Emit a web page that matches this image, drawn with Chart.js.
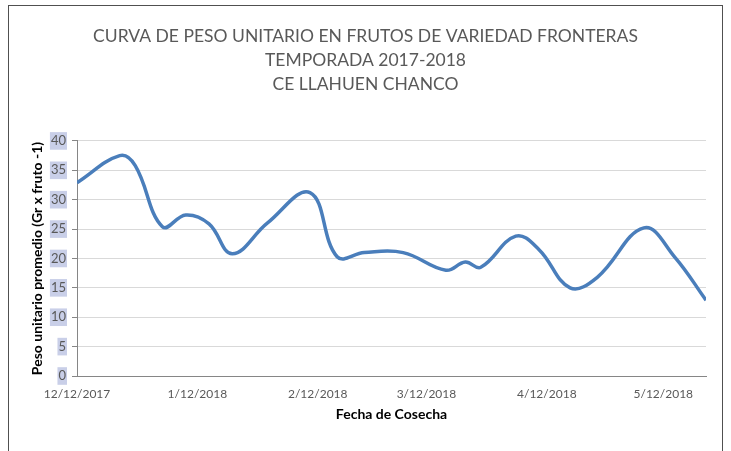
<!DOCTYPE html>
<html lang="es">
<head>
    <meta charset="UTF-8">
    <title>Curva de peso unitario - Fronteras</title>
    <style>
        body {
            margin: 0;
            background-color: #ffffff;
        }
        .marco {
            position: absolute;
            left: 8px;
            top: 5px;
            width: 713px;
            height: 470px;
            border: 1px solid #505050;
        }
        .lienzo {
            position: absolute;
            left: 0;
            top: 0;
            width: 731px;
            height: 451px;
        }
    </style>
    <script src="https://cdn.jsdelivr.net/npm/chart.js"></script>
</head>
<body>
    <div class="marco"></div>
    <div class="lienzo">
        <canvas id="grafico" width="731" height="451"></canvas>
    </div>
    <script>
        // fechas de cosecha y peso unitario promedio (g por fruto)
        const fechas = ['2017-12-12', '2017-12-23', '2017-12-27', '2018-01-03', '2018-01-09',
            '2018-01-15', '2018-01-21', '2018-01-30', '2018-02-10', '2018-02-17', '2018-02-24',
            '2018-03-06', '2018-03-17', '2018-03-22', '2018-03-26', '2018-04-04', '2018-04-10',
            '2018-04-18', '2018-04-25', '2018-05-07', '2018-05-15', '2018-05-23'];
        const pesos = [32.9, 37.5, 35.8, 25.4, 27.4, 25.9, 20.8, 26.0, 31.2, 20.3, 21.0,
            21.0, 18.0, 19.4, 18.5, 23.8, 21.5, 15.0, 16.8, 25.2, 20.2, 12.9];

        // etiquetas del eje x (fechas mostradas en el grafico)
        const fechasEje = ['2017-12-12', '2018-01-12', '2018-02-12', '2018-03-12', '2018-04-12', '2018-05-12'];
        const etiquetasEje = ['12/12/2017', '1/12/2018', '2/12/2018', '3/12/2018', '4/12/2018', '5/12/2018'];

        const dia0 = Date.UTC(2017, 11, 12);
        function aDia(f) {
            const p = f.split('-').map(Number);
            return Math.round((Date.UTC(p[0], p[1] - 1, p[2]) - dia0) / 86400000);
        }
        const diasEje = fechasEje.map(aDia);
        const puntos = fechas.map((f, i) => ({ x: aDia(f), y: pesos[i] }));

        const gris = '#595959';
        new Chart(document.getElementById('grafico'), {
            type: 'line',
            data: {
                datasets: [{
                    label: 'Peso unitario',
                    data: puntos,
                    borderColor: '#4a7ebb',
                    borderWidth: 3.5,
                    pointRadius: 0,
                    tension: 0.4,
                    fill: false
                }]
            },
            options: {
                responsive: false,
                animation: false,
                layout: { padding: { left: 25, right: 25, top: 0, bottom: 24 } },
                plugins: {
                    legend: { display: false },
                    tooltip: { enabled: false },
                    title: {
                        display: true,
                        text: ['CURVA DE PESO UNITARIO EN FRUTOS DE VARIEDAD FRONTERAS',
                            'TEMPORADA 2017-2018', 'CE LLAHUEN CHANCO'],
                        color: gris,
                        font: { family: 'Lato', size: 17.5, weight: 'normal', lineHeight: 1.37 },
                        padding: { top: 24, bottom: 45 }
                    }
                },
                scales: {
                    x: {
                        type: 'linear',
                        min: 0,
                        max: aDia(fechas[fechas.length - 1]),
                        afterBuildTicks: s => { s.ticks = diasEje.map(v => ({ value: v })); },
                        afterFit: s => { s.height = 51; },
                        ticks: {
                            autoSkip: false,
                            maxRotation: 0,
                            color: gris,
                            padding: 3,
                            font: { family: 'Lato', size: 12 },
                            callback: v => etiquetasEje[diasEje.indexOf(v)]
                        },
                        grid: { display: false },
                        border: { display: true, color: '#868686', width: 1 },
                        title: {
                            display: true,
                            text: 'Fecha de Cosecha',
                            color: '#000000',
                            font: { family: 'Lato', size: 14, weight: 'bold' },
                            padding: { top: 4 }
                        }
                    },
                    y: {
                        min: 0,
                        max: 40,
                        afterFit: s => { s.width = 52; },
                        ticks: {
                            stepSize: 5,
                            color: gris,
                            padding: 6,
                            font: { family: 'Lato', size: 13 },
                            showLabelBackdrop: true,
                            backdropColor: '#c9cfe8',
                            backdropPadding: 1
                        },
                        grid: { color: '#d9d9d9', tickLength: 5, tickColor: '#868686' },
                        border: { color: '#868686', width: 1 },
                        title: {
                            display: true,
                            text: 'Peso unitario promedio (Gr x fruto -1)',
                            color: '#000000',
                            font: { family: 'Lato', size: 14, weight: 'bold' },
                            padding: { bottom: 0 }
                        }
                    }
                }
            }
        });
    </script>
</body>
</html>
